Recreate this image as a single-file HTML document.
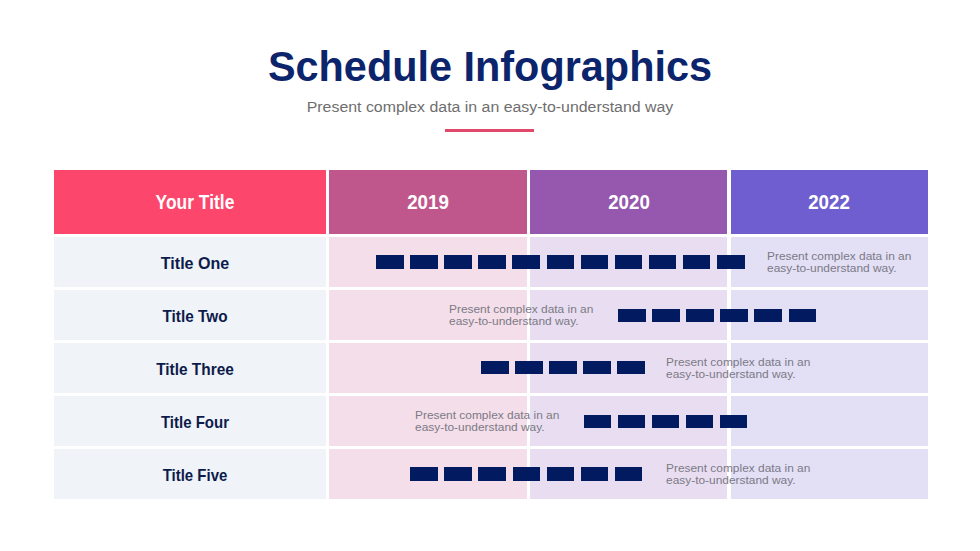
<!DOCTYPE html>
<html><head><meta charset="utf-8"><style>
html,body{margin:0;padding:0;background:#fff;width:980px;height:551px;overflow:hidden;position:relative;font-family:"Liberation Sans",sans-serif}
div{position:absolute;box-sizing:border-box}
.t{white-space:nowrap;line-height:1}
.hd{color:#fff;font-weight:bold;font-size:19px;display:flex;align-items:center;justify-content:center}
.rl{color:#0d1b4b;font-weight:bold;font-size:17px;display:flex;align-items:center;justify-content:center}
.d{background:#021b60;height:13.5px;width:27.5px}
.sm{color:#7b7a86;font-size:11px;line-height:12.3px;white-space:nowrap;transform:scaleX(1.083);transform-origin:0 0}
</style></head><body>

<div class="t" style="left:0;width:980px;top:45px;text-align:center;font-size:43px;font-weight:bold;color:#0c246b;transform:scaleX(0.963);transform-origin:489px 0">Schedule Infographics</div>
<div class="t" style="left:0;width:980px;top:100px;text-align:center;font-size:14px;color:#6e6e6e;transform:scaleX(1.135);transform-origin:490px 0">Present complex data in an easy-to-understand way</div>
<div style="left:445px;top:129.3px;width:89px;height:3px;background:#e1486a"></div>
<div style="left:54px;top:237px;width:272px;height:50px;background:#f0f3f8"></div>
<div style="left:329px;top:237px;width:197.5px;height:50px;background:#f4dee9"></div>
<div style="left:530px;top:237px;width:197px;height:50px;background:#e9def1"></div>
<div style="left:730.5px;top:237px;width:197.5px;height:50px;background:#e3dff5"></div>
<div style="left:54px;top:290px;width:272px;height:50px;background:#f0f3f8"></div>
<div style="left:329px;top:290px;width:197.5px;height:50px;background:#f4dee9"></div>
<div style="left:530px;top:290px;width:197px;height:50px;background:#e9def1"></div>
<div style="left:730.5px;top:290px;width:197.5px;height:50px;background:#e3dff5"></div>
<div style="left:54px;top:343px;width:272px;height:50px;background:#f0f3f8"></div>
<div style="left:329px;top:343px;width:197.5px;height:50px;background:#f4dee9"></div>
<div style="left:530px;top:343px;width:197px;height:50px;background:#e9def1"></div>
<div style="left:730.5px;top:343px;width:197.5px;height:50px;background:#e3dff5"></div>
<div style="left:54px;top:396px;width:272px;height:50px;background:#f0f3f8"></div>
<div style="left:329px;top:396px;width:197.5px;height:50px;background:#f4dee9"></div>
<div style="left:530px;top:396px;width:197px;height:50px;background:#e9def1"></div>
<div style="left:730.5px;top:396px;width:197.5px;height:50px;background:#e3dff5"></div>
<div style="left:54px;top:449px;width:272px;height:50px;background:#f0f3f8"></div>
<div style="left:329px;top:449px;width:197.5px;height:50px;background:#f4dee9"></div>
<div style="left:530px;top:449px;width:197px;height:50px;background:#e9def1"></div>
<div style="left:730.5px;top:449px;width:197.5px;height:50px;background:#e3dff5"></div>
<div class="hd" style="left:54px;top:170px;width:272px;height:64px;background:#fd466b"></div>
<div class="t" style="left:95px;width:200px;top:193px;text-align:center;color:#fff;font-weight:bold;font-size:19.6px;transform:scaleX(0.89)">Your Title</div>
<div class="hd" style="left:329px;top:170px;width:197.5px;height:64px;background:#c0578c"></div>
<div class="t" style="left:327.8px;width:200px;top:193px;text-align:center;color:#fff;font-weight:bold;font-size:19.6px;transform:scaleX(0.955)">2019</div>
<div class="hd" style="left:530px;top:170px;width:197px;height:64px;background:#9558ae"></div>
<div class="t" style="left:528.5px;width:200px;top:193px;text-align:center;color:#fff;font-weight:bold;font-size:19.6px;transform:scaleX(0.955)">2020</div>
<div class="hd" style="left:730.5px;top:170px;width:197.5px;height:64px;background:#6e5ecf"></div>
<div class="t" style="left:729.2px;width:200px;top:193px;text-align:center;color:#fff;font-weight:bold;font-size:19.6px;transform:scaleX(0.955)">2022</div>
<div class="t" style="left:95px;top:254.6px;width:200px;text-align:center;color:#0d1b4b;font-weight:bold;font-size:17px;transform:scaleX(0.944)">Title One</div>
<div class="t" style="left:95px;top:307.6px;width:200px;text-align:center;color:#0d1b4b;font-weight:bold;font-size:17px;transform:scaleX(0.902)">Title Two</div>
<div class="t" style="left:95px;top:360.6px;width:200px;text-align:center;color:#0d1b4b;font-weight:bold;font-size:17px;transform:scaleX(0.906)">Title Three</div>
<div class="t" style="left:95px;top:413.6px;width:200px;text-align:center;color:#0d1b4b;font-weight:bold;font-size:17px;transform:scaleX(0.882)">Title Four</div>
<div class="t" style="left:95px;top:466.6px;width:200px;text-align:center;color:#0d1b4b;font-weight:bold;font-size:17px;transform:scaleX(0.88)">Title Five</div>
<div class="d" style="left:376.0px;top:255px;height:14.0px"></div>
<div class="d" style="left:410.1px;top:255px;height:14.0px"></div>
<div class="d" style="left:444.2px;top:255px;height:14.0px"></div>
<div class="d" style="left:478.3px;top:255px;height:14.0px"></div>
<div class="d" style="left:512.4px;top:255px;height:14.0px"></div>
<div class="d" style="left:546.5px;top:255px;height:14.0px"></div>
<div class="d" style="left:580.6px;top:255px;height:14.0px"></div>
<div class="d" style="left:614.7px;top:255px;height:14.0px"></div>
<div class="d" style="left:648.8px;top:255px;height:14.0px"></div>
<div class="d" style="left:682.9px;top:255px;height:14.0px"></div>
<div class="d" style="left:717.0px;top:255px;height:14.0px"></div>
<div class="d" style="left:618.0px;top:308.6px;height:13.0px"></div>
<div class="d" style="left:652.1px;top:308.6px;height:13.0px"></div>
<div class="d" style="left:686.2px;top:308.6px;height:13.0px"></div>
<div class="d" style="left:720.3px;top:308.6px;height:13.0px"></div>
<div class="d" style="left:754.4px;top:308.6px;height:13.0px"></div>
<div class="d" style="left:788.5px;top:308.6px;height:13.0px"></div>
<div class="d" style="left:481.0px;top:361px;height:13.4px"></div>
<div class="d" style="left:515.1px;top:361px;height:13.4px"></div>
<div class="d" style="left:549.2px;top:361px;height:13.4px"></div>
<div class="d" style="left:583.3px;top:361px;height:13.4px"></div>
<div class="d" style="left:617.4px;top:361px;height:13.4px"></div>
<div class="d" style="left:583.5px;top:414.5px;height:13.2px"></div>
<div class="d" style="left:617.6px;top:414.5px;height:13.2px"></div>
<div class="d" style="left:651.7px;top:414.5px;height:13.2px"></div>
<div class="d" style="left:685.8px;top:414.5px;height:13.2px"></div>
<div class="d" style="left:719.9px;top:414.5px;height:13.2px"></div>
<div class="d" style="left:410.2px;top:467px;height:14.0px"></div>
<div class="d" style="left:444.3px;top:467px;height:14.0px"></div>
<div class="d" style="left:478.4px;top:467px;height:14.0px"></div>
<div class="d" style="left:512.5px;top:467px;height:14.0px"></div>
<div class="d" style="left:546.6px;top:467px;height:14.0px"></div>
<div class="d" style="left:580.7px;top:467px;height:14.0px"></div>
<div class="d" style="left:614.8px;top:467px;height:14.0px"></div>
<div class="sm" style="left:766.5px;top:250px">Present complex data in an<br>easy-to-understand way.</div>
<div class="sm" style="left:448.5px;top:303px">Present complex data in an<br>easy-to-understand way.</div>
<div class="sm" style="left:665.5px;top:356px">Present complex data in an<br>easy-to-understand way.</div>
<div class="sm" style="left:414.5px;top:409px">Present complex data in an<br>easy-to-understand way.</div>
<div class="sm" style="left:665.5px;top:462px">Present complex data in an<br>easy-to-understand way.</div>
</body></html>
